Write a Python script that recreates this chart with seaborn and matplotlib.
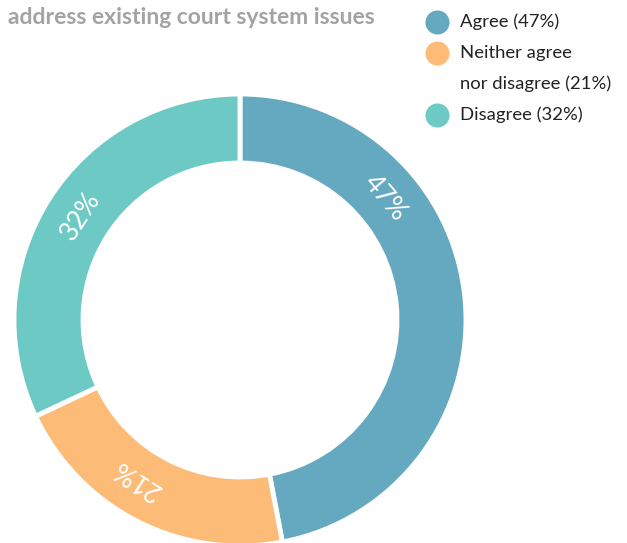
import matplotlib
matplotlib.use("Agg")
import matplotlib.pyplot as plt
import seaborn as sns
import numpy as np

categories = ["Agree", "Neither agree\nnor disagree", "Disagree"]
shares = [47, 21, 32]
colors = ["#64a9bf", "#fdbb78", "#6cc9c4"]
label_angles = [50, 213, 303]  # degrees clockwise from 12 o'clock

sns.set_theme(style="white")
plt.rcParams["font.family"] = ["Lato", "DejaVu Sans"]

W, H = 627, 543
fig = plt.figure(figsize=(W / 100, H / 100), dpi=100)

# donut axes in pixel-like units, centred at (240, 320)
cx, cy, R, half = 240, 320, 226, 234
ax = fig.add_axes([(cx - half) / W, (H - cy - half) / H, 2 * half / W, 2 * half / H])

ax.pie(shares, colors=colors, startangle=90, counterclock=False, radius=R,
       wedgeprops=dict(width=69, edgecolor="white", linewidth=3.5))
ax.set_xlim(-half, half)
ax.set_ylim(-half, half)
ax.set_aspect("equal")
ax.axis("off")

r_lab = R - 36
for val, ang in zip(shares, label_angles):
    t = np.deg2rad(ang)
    ax.text(r_lab * np.sin(t), r_lab * np.cos(t), f"{val}%", rotation=-ang,
            rotation_mode="anchor", ha="center", va="center",
            color="white", fontsize=19, fontweight="normal")

fig.text(8 / W, 1 - 17 / H, "address existing court system issues", color="#a3a3a3",
         fontsize=16.5, fontweight="bold", ha="left", va="center")

# legend
ov = fig.add_axes([0, 0, 1, 1])
ov.set_xlim(0, W)
ov.set_ylim(H, 0)
ov.axis("off")
leg_y = [22, 53, 115]
for cat, val, col, y in zip(categories, shares, colors, leg_y):
    ov.scatter([437], [y], s=300, color=col, linewidths=0)
    lines = f"{cat} ({val}%)".split("\n")
    for i, ln in enumerate(lines):
        ov.text(460, y + i * 31, ln, fontsize=13.3, color="#222222", ha="left", va="center")

fig.savefig("out.png", dpi=100)
